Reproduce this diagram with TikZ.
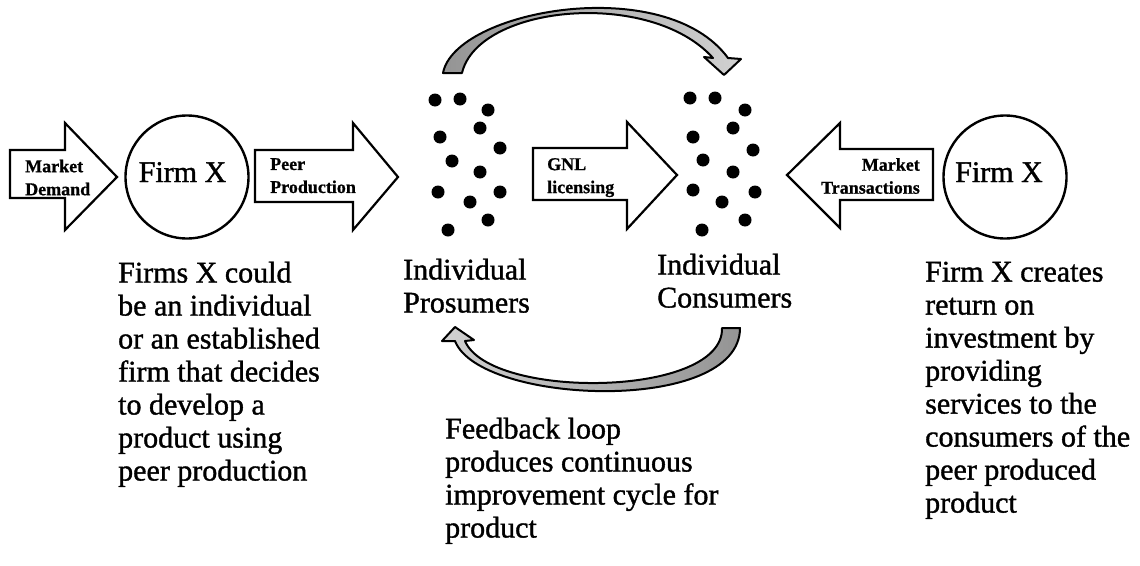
\documentclass[tikz,border=0pt]{standalone}
\usepackage{fontspec}
\setmainfont{Liberation Serif}
\newfontfamily\heavyserif[FakeBold=1.2]{Liberation Serif}
\newfontfamily\heavybold[FakeBold=0.8]{Liberation Serif Bold}
\begin{document}
\begin{tikzpicture}[x=1pt,y=-1pt,
  blockarrow/.style={draw=black,line width=2.2pt,fill=white,line join=miter},
  firm/.style={circle,draw=black,line width=2.4pt,minimum size=123pt,inner sep=0pt},
  dot/.style={circle,fill=black,inner sep=0pt,minimum size=13pt},
  bigtext/.style={inner sep=0pt,align=left,font=\heavyserif\fontsize{30}{33}\selectfont},
  lbl/.style={inner sep=0pt,font=\heavybold\fontsize{18}{23}\selectfont},
  looparrow/.style={draw=black,line width=2pt,line join=round}
]
\useasboundingbox (0,0) rectangle (1140,565);

% block arrows
\draw[blockarrow] (10,150) -- (65,150) -- (65,123) -- (117,177) -- (65,230) -- (65,198) -- (10,198) -- cycle;
\draw[blockarrow] (255,150) -- (353,150) -- (353,123) -- (398,177) -- (353,230) -- (353,202) -- (255,202) -- cycle;
\draw[blockarrow] (533,148) -- (627,148) -- (627,122) -- (677,175) -- (627,229) -- (627,200) -- (533,200) -- cycle;
\draw[blockarrow] (933,149) -- (840,149) -- (840,123) -- (787,175) -- (840,228) -- (840,200) -- (933,200) -- cycle;

% arrow labels
\node[lbl,anchor=north west,align=left] (lmd) at (25,159.5) {Market\\Demand};
\node[lbl,anchor=north west,align=left] (lpp) at (270,158) {Peer\\Production};
\node[lbl,anchor=north west,align=left] (lgnl) at (547,158) {GNL\\licensing};
\node[lbl,anchor=north east,align=right] (lmt) at (920,158) {Market\\Transactions};

% firms
\node[firm] (firmL) at (187,177) {};
\node[firm] (firmR) at (1005,177) {};
\node[inner sep=0pt,anchor=base,font=\heavyserif\fontsize{30}{33}\selectfont] (firmLt) at (182.5,182) {Firm X};
\node[inner sep=0pt,anchor=base,font=\heavyserif\fontsize{30}{33}\selectfont] (firmRt) at (999,182) {Firm X};

% prosumer dots
\foreach \n/\x/\y in {1/435/100,2/460/99,3/488/110,4/480/128,5/440/137,6/500/148,7/452/161,8/480/172,9/438/192,10/500/192,11/470/202,12/488/220,13/448/230}
  \node[dot] (p\n) at (\x,\y) {};
% consumer dots
\foreach \n/\x/\y in {1/690/98,2/715/98,3/745/110,4/733/128,5/693/137,6/753/150,7/703/160,8/733/172,9/693/190,10/755/192,11/722/202,12/745/220,13/702/230}
  \node[dot] (c\n) at (\x,\y) {};

% curved arrows
\draw[looparrow,left color=black!42,right color=black!18]
  (443,73) .. controls (455,10) and (665,-28) .. (728,58)
  -- (741,59) -- (724,75) -- (704,57) -- (713,58)
  .. controls (650,-12) and (478,5) .. (462,73) -- cycle;
\draw[looparrow,left color=black!18,right color=black!42]
  (740,328) .. controls (740,415) and (480,405) .. (455,341)
  -- (442,341) -- (455,327) -- (474,340) -- (465,341)
  .. controls (490,400) and (724,398) .. (722,328) -- cycle;

% texts
\node[bigtext,anchor=north west] (ipro) at (403,258.5) {Individual\\Prosumers};
\node[bigtext,anchor=north west] (icon) at (657,253.5) {Individual\\Consumers};
\node[bigtext,anchor=north west] (tleft) at (118,261.5) {Firms X could\\be an individual\\or an established\\firm that decides\\to develop a\\product using\\peer production};
\node[bigtext,anchor=north west] (tright) at (925,261.5) {Firm X creates\\return on\\investment by\\providing\\services to the\\consumers of the\\peer produced\\product};
\node[bigtext,anchor=north west] (tmid) at (445,417.5) {Feedback loop\\produces continuous\\improvement cycle for\\product};
\end{tikzpicture}
\end{document}
